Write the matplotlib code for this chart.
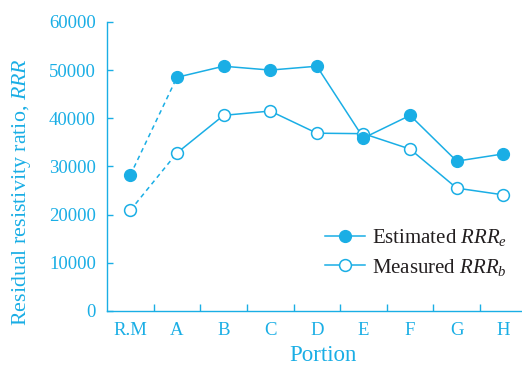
import numpy as np
import matplotlib.pyplot as plt

# Datos
portions = ['R.M', 'A', 'B', 'C', 'D', 'E', 'F', 'G', 'H']
rrr_est = [28200, 48500, 50800, 50000, 50800, 35900, 40600, 31100, 32600]
rrr_meas = [20900, 32800, 40600, 41500, 36900, 36800, 33600, 25500, 24100]

col = '#1aaee5'
plt.rcParams['font.family'] = ['Liberation Serif', 'DejaVu Serif']
plt.rcParams['mathtext.fontset'] = 'custom'
plt.rcParams['mathtext.it'] = 'Liberation Serif:italic'
plt.rcParams['mathtext.rm'] = 'Liberation Serif'

x = np.arange(len(portions))
ms = 8.5

fig = plt.figure(figsize=(5.22, 3.65), dpi=100)
ax = fig.add_axes([0.205, 0.148, 0.795, 0.792])

# tramo R.M -> A discontinuo
ax.plot(x[:2], rrr_est[:2], ls=(0, (3, 2.5)), color=col, lw=1.1)
ax.plot(x[:2], rrr_meas[:2], ls=(0, (3, 2.5)), color=col, lw=1.1)
ax.plot(x[1:], rrr_meas[1:], '-', color=col, lw=1.1)
ax.plot(x[1:], rrr_est[1:], '-', color=col, lw=1.1)
ax.plot(x, rrr_meas, 'o', color=col, ms=ms, mfc='white', mew=1.1)
ax.plot(x, rrr_est, 'o', color=col, ms=ms)

# entradas de leyenda
h_e, = ax.plot([], [], '-o', color=col, lw=1.1, ms=ms)
h_m, = ax.plot([], [], '-o', color=col, lw=1.1, ms=ms, mfc='white', mew=1.1)
leg = ax.legend([h_e, h_m], [r'Estimated $RRR_e$', r'Measured $RRR_b$'],
                loc='lower right', bbox_to_anchor=(1.01, 0.05), frameon=False,
                fontsize=15, handlelength=1.9, handletextpad=0.35, labelspacing=0.4)
for t in leg.get_texts():
    t.set_color('#231f20')

ax.set_xlim(-0.5, 8.4)
ax.set_ylim(0, 60000)
ax.set_yticks(np.arange(0, 60001, 10000))
ax.set_xticks(x)
ax.set_xticklabels(portions)
ax.set_xticks(np.arange(0.5, 8.4, 1), minor=True)
ax.tick_params(axis='x', which='major', length=0, pad=8, labelcolor=col, labelsize=13.5)
ax.tick_params(axis='x', which='minor', direction='in', length=5, color=col, width=1)
ax.tick_params(axis='y', direction='in', length=4, color=col, width=1, labelcolor=col, labelsize=13.5, pad=8)

for s in ['top', 'right']:
    ax.spines[s].set_visible(False)
for s in ['left', 'bottom']:
    ax.spines[s].set_color(col)
    ax.spines[s].set_linewidth(1)

ax.set_xlabel('Portion', color=col, fontsize=16.5)
ax.xaxis.set_label_coords(0.52, -0.118)
ax.set_ylabel(r'Residual resistivity ratio, $RRR$', color=col, fontsize=15.8)
ax.yaxis.set_label_coords(-0.178, 0.41)

fig.savefig('out.png', dpi=100)
